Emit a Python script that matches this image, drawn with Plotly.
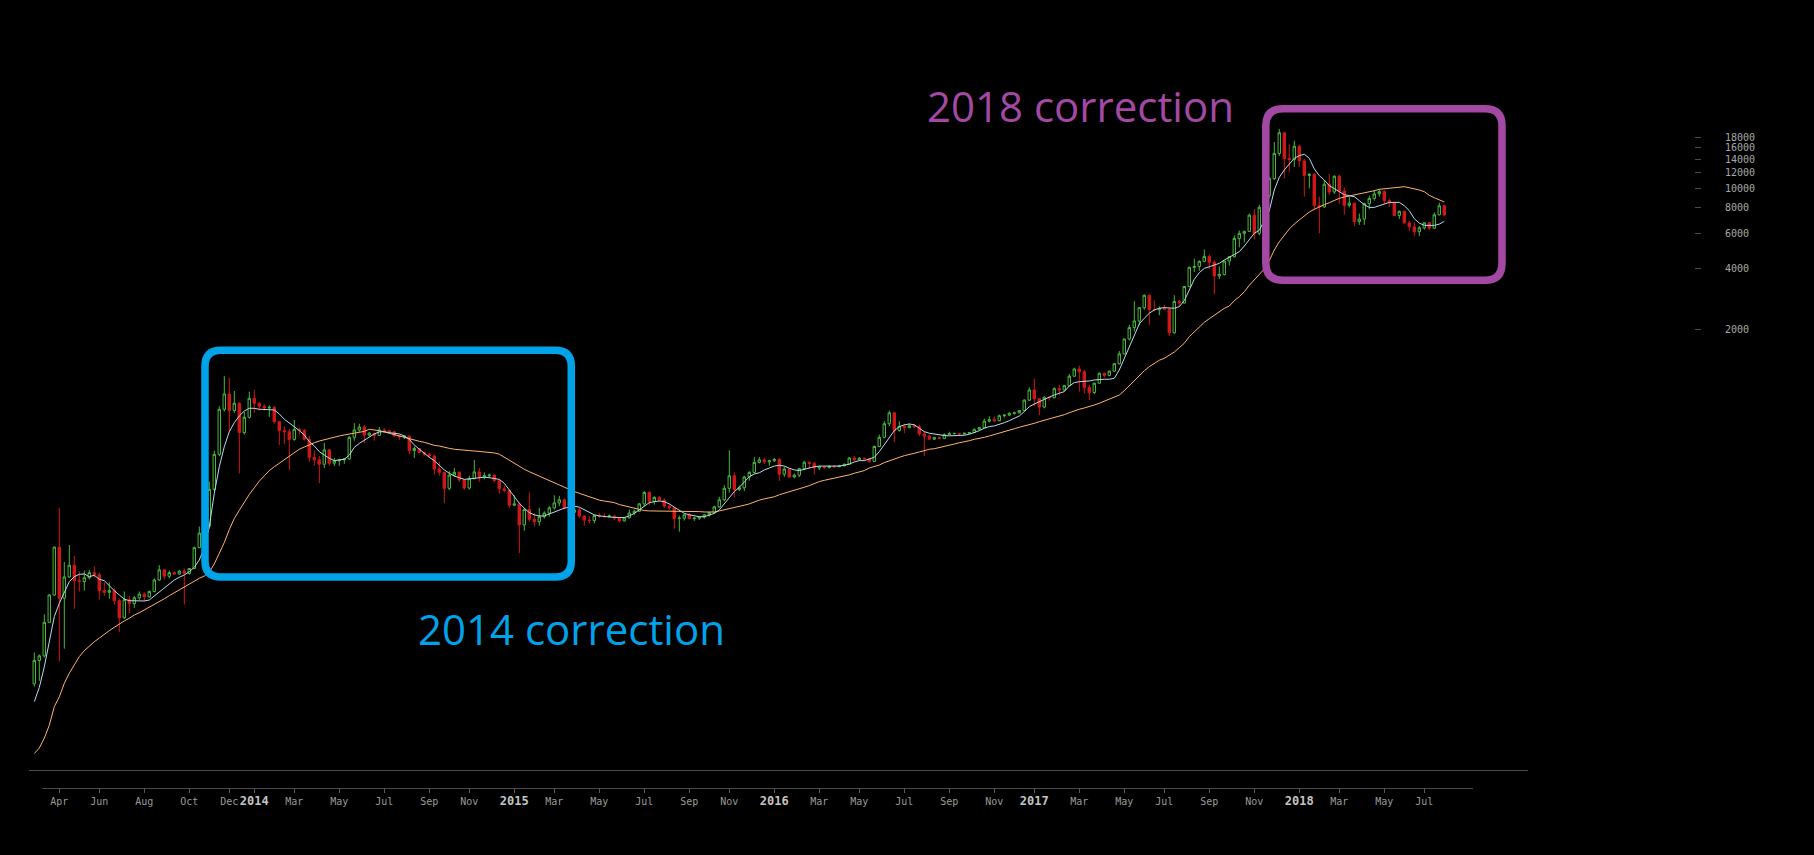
import math
import pandas as pd
import plotly.graph_objects as go

# ---------------- data (weekly candles, Monday weeks) ----------------
START_WEEK = "2013-03-04"

opens = [
    34.8, 45.4, 47.9, 70.3, 96, 166, 92.5, 118, 135, 113,
    112, 117, 124, 121, 101, 99, 101, 90, 74, 91,
    87, 93, 97, 94, 100, 114, 128, 119, 124, 122,
    126, 123, 130, 165, 195, 211, 321, 479, 802, 955,
    791, 859, 614, 732, 909, 859, 830, 815, 820, 696,
    628, 620, 568, 638, 630, 570, 463, 450, 428, 504,
    433, 445, 450, 455, 582, 633, 655, 597, 610, 595,
    633, 628, 620, 592, 585, 590, 500, 512, 490, 480,
    470, 405, 390, 325, 378, 390, 358, 326, 363, 392,
    370, 375, 378, 355, 323, 317, 268, 272, 214, 255,
    228, 222, 235, 245, 260, 275, 285, 260, 247, 254,
    237, 226, 225, 238, 236, 235, 237, 232, 224, 232,
    245, 250, 272, 310, 280, 293, 284, 265, 260, 230,
    231, 240, 230, 231, 234, 240, 246, 263, 285, 325,
    375, 321, 327, 370, 390, 437, 450, 440, 445, 452,
    382, 405, 370, 378, 407, 438, 432, 410, 415, 412,
    418, 416, 420, 428, 460, 450, 458, 455, 442, 524,
    582, 680, 770, 630, 660, 650, 665, 657, 605, 590,
    570, 580, 575, 600, 607, 609, 605, 610, 615, 638,
    650, 700, 712, 703, 745, 750, 765, 770, 790, 890,
    1000, 905, 822, 920, 915, 1015, 1000, 1050, 1170, 1270,
    1230, 1030, 970, 1080, 1210, 1180, 1240, 1350, 1510, 1790,
    2040, 2200, 2560, 2950, 2510, 2500, 2540, 2520, 1920, 2750,
    2700, 3260, 4060, 4100, 4350, 4600, 4300, 3680, 3740, 4360,
    4580, 5640, 5990, 6120, 7370, 5990, 8060, 9200, 11200, 14900,
    18900, 14100, 13900, 16200, 13700, 11600, 11750, 8240, 8100, 10500,
    9600, 11500, 9700, 8250, 8450, 6850, 7050, 8400, 8930, 9400,
    9650, 8700, 8500, 7350, 7700, 6750, 6450, 6100, 6380, 6750,
    6350, 7400, 8200,
]

highs = [
    49.8, 48.7, 77, 97, 167, 259, 140, 170, 150, 126,
    127, 128, 133, 124, 111, 111, 104, 92, 100, 95,
    95, 100, 99, 101, 116, 135, 129, 127, 126, 128,
    130, 131, 167, 210, 220, 350, 500, 830, 1172, 1150,
    988, 870, 780, 980, 1000, 870, 850, 840, 830, 700,
    660, 640, 709, 650, 640, 590, 500, 470, 547, 510,
    460, 456, 458, 590, 684, 680, 670, 620, 612, 655,
    645, 635, 625, 600, 595, 595, 525, 515, 492, 485,
    478, 440, 392, 395, 410, 395, 360, 375, 450, 410,
    390, 385, 380, 358, 335, 320, 300, 275, 260, 310,
    245, 260, 250, 265, 300, 298, 290, 275, 260, 260,
    238, 236, 240, 245, 244, 241, 238, 233, 234, 255,
    255, 275, 315, 315, 297, 297, 290, 272, 262, 238,
    242, 245, 235, 236, 241, 248, 266, 295, 337, 502,
    390, 335, 375, 395, 465, 465, 460, 447, 460, 460,
    415, 410, 385, 410, 445, 440, 440, 418, 418, 422,
    425, 425, 430, 465, 470, 465, 462, 458, 530, 600,
    700, 790, 775, 700, 680, 680, 680, 670, 620, 600,
    585, 588, 610, 620, 612, 612, 612, 618, 642, 655,
    720, 740, 740, 755, 760, 775, 780, 795, 900, 1030,
    1140, 910, 930, 928, 1030, 1060, 1060, 1200, 1290, 1320,
    1260, 1060, 1090, 1220, 1220, 1250, 1360, 1560, 1800, 2100,
    2760, 2580, 2980, 2980, 2780, 2600, 2640, 2550, 2950, 2800,
    3280, 4100, 4480, 4400, 4980, 4700, 4400, 4100, 4380, 4600,
    5850, 6180, 6180, 7500, 7900, 8300, 9700, 11400, 17000, 19700,
    19000, 16500, 17250, 16400, 14000, 11900, 11900, 9100, 11000, 11800,
    11600, 11700, 10100, 9100, 8500, 7500, 8500, 9200, 9800, 9950,
    9800, 8900, 8600, 7780, 7770, 6900, 6800, 6500, 6800, 6800,
    7600, 8500, 8300,
]

lows = [
    33.7, 36, 47, 70, 95, 45, 52, 117, 82, 100,
    101, 115, 117, 91, 95, 92, 86, 63, 73, 78,
    83, 91, 89, 93, 99, 113, 115, 116, 121, 121,
    86, 121, 129, 164, 190, 205, 315, 470, 780, 620,
    770, 386, 600, 720, 770, 790, 790, 735, 680, 533,
    540, 400, 560, 600, 560, 440, 420, 345, 410, 420,
    420, 420, 430, 450, 560, 620, 545, 590, 560, 590,
    610, 610, 585, 565, 570, 480, 460, 485, 470, 460,
    380, 375, 275, 318, 370, 350, 320, 320, 360, 350,
    360, 365, 348, 305, 310, 260, 265, 155, 200, 222,
    210, 212, 230, 235, 255, 265, 255, 240, 240, 232,
    212, 218, 218, 232, 233, 233, 225, 220, 222, 230,
    240, 248, 265, 268, 270, 280, 260, 255, 205, 198,
    225, 228, 224, 226, 230, 235, 244, 260, 280, 310,
    293, 315, 315, 355, 385, 432, 430, 420, 440, 354,
    370, 365, 365, 370, 400, 405, 380, 400, 405, 408,
    410, 414, 418, 425, 440, 445, 448, 435, 440, 520,
    575, 660, 550, 620, 610, 645, 650, 590, 470, 565,
    565, 570, 570, 598, 602, 595, 600, 605, 610, 630,
    645, 690, 690, 700, 730, 740, 755, 765, 785, 880,
    830, 750, 810, 885, 910, 940, 985, 1045, 1160, 980,
    960, 890, 955, 1075, 1150, 1170, 1230, 1340, 1500, 1760,
    1950, 2100, 2500, 2100, 2450, 2350, 2480, 1850, 1900, 2600,
    2690, 3230, 3850, 3900, 4300, 3980, 2980, 3550, 3700, 4150,
    4560, 5100, 5400, 6100, 5600, 5850, 7900, 9000, 11000, 14500,
    11200, 12100, 12800, 12800, 9100, 10000, 7800, 6000, 8000, 9300,
    9400, 8400, 7400, 8050, 6500, 6600, 6600, 7900, 8700, 9100,
    8400, 8100, 7300, 7050, 6650, 6150, 5800, 5800, 6250, 6200,
    6300, 7350, 7300,
]

closes = [
    45.4, 47.9, 70.3, 96, 166, 92.5, 118, 135, 113, 112,
    117, 124, 121, 101, 99, 101, 90, 74, 91, 87,
    93, 97, 94, 100, 114, 128, 119, 124, 122, 126,
    123, 130, 165, 195, 211, 321, 479, 802, 955, 791,
    859, 614, 732, 909, 859, 830, 815, 820, 696, 628,
    620, 568, 638, 630, 570, 463, 450, 428, 504, 433,
    445, 450, 455, 582, 633, 655, 597, 610, 595, 633,
    628, 620, 592, 585, 590, 500, 512, 490, 480, 470,
    405, 390, 325, 378, 390, 358, 326, 363, 392, 370,
    375, 378, 355, 323, 317, 268, 272, 214, 255, 228,
    222, 235, 245, 260, 275, 285, 260, 247, 254, 237,
    226, 225, 238, 236, 235, 237, 232, 224, 232, 245,
    250, 272, 310, 280, 293, 284, 265, 260, 230, 231,
    240, 230, 231, 234, 240, 246, 263, 285, 325, 375,
    321, 327, 370, 390, 437, 450, 440, 445, 452, 382,
    405, 370, 378, 407, 438, 432, 410, 415, 412, 418,
    416, 420, 428, 460, 450, 458, 455, 442, 524, 582,
    680, 770, 630, 660, 650, 665, 657, 605, 590, 570,
    580, 575, 600, 607, 609, 605, 610, 615, 638, 650,
    700, 712, 703, 745, 750, 765, 770, 790, 890, 1000,
    905, 822, 920, 915, 1015, 1000, 1050, 1170, 1270, 1230,
    1030, 970, 1080, 1210, 1180, 1240, 1350, 1510, 1790, 2040,
    2200, 2560, 2950, 2510, 2500, 2540, 2520, 1920, 2750, 2700,
    3260, 4060, 4100, 4350, 4600, 4300, 3680, 3740, 4360, 4580,
    5640, 5990, 6120, 7370, 5990, 8060, 9200, 11200, 14900, 18900,
    14100, 13900, 16200, 13700, 11600, 11750, 8240, 8100, 10500, 9600,
    11500, 9700, 8250, 8450, 6850, 7050, 8400, 8930, 9400, 9650,
    8700, 8500, 7350, 7700, 6750, 6450, 6100, 6380, 6750, 6350,
    7400, 8200, 7400,
]

# short moving average (light blue line)
ma_fast = [
    28.4, 33.4, 42.3, 57.4, 75, 87.3, 99.7, 111.8, 118.4, 121.6,
    122.1, 118.4, 120.3, 114.9, 113.1, 106.4, 100.9, 96, 91.7, 90,
    89.7, 89.7, 89.7, 90.7, 94.9, 99.7, 104.9, 109.8, 114, 117.6,
    120.7, 125.3, 131.8, 143.3, 165, 210, 307, 416, 523, 621,
    688, 743, 786, 811, 811, 802, 802, 798, 795, 760,
    715, 688, 657, 628, 598, 554, 527, 494, 476, 458,
    446, 450, 453, 475, 519, 543, 564, 586, 605, 619,
    621, 614, 609, 605, 591, 569, 533, 508, 485, 463,
    446, 424, 401, 386, 374, 367, 360, 362, 365, 369,
    369, 367, 365, 360, 344, 319, 295, 274, 259, 246,
    240, 237, 237, 242, 249, 254, 259, 262, 265, 262,
    254, 246, 240, 237, 235, 233, 233, 233, 233, 237,
    244, 254, 266, 276, 279, 281, 279, 272, 262, 252,
    244, 240, 237, 235, 235, 239, 244, 254, 272, 295,
    313, 329, 351, 371, 383, 388, 401, 409, 419, 423,
    419, 409, 401, 398, 404, 411, 416, 419, 419, 421,
    419, 419, 423, 429, 439, 446, 446, 453, 463, 494,
    533, 582, 628, 658, 671, 678, 671, 646, 621, 610,
    603, 598, 594, 592, 592, 592, 596, 603, 614, 628,
    646, 658, 663, 674, 688, 704, 724, 743, 781, 826,
    852, 875, 899, 920, 945, 963, 981, 1047, 1087, 1099,
    1099, 1108, 1121, 1130, 1130, 1130, 1143, 1257, 1437, 1653,
    1874, 2127, 2270, 2403, 2495, 2544, 2561, 2544, 2544, 2591,
    2774, 3133, 3541, 3819, 4014, 4089, 4169, 4250, 4414, 4552,
    4675, 4855, 5182, 5595, 5991, 6200, 6900, 7758, 9825, 11360,
    12355, 13230, 14120, 14550, 14790, 14120, 12500, 11570, 11010, 10320,
    9940, 9670, 9314, 9208, 9104, 8696, 8307, 8055, 8055, 8212,
    8372, 8526, 8526, 8526, 8212, 7758, 7077, 6731, 6557, 6557,
    6557, 6656, 6864,
]

# long moving average (orange line)
ma_slow = [
    15.7, 16.7, 18.7, 21.7, 26.8, 30.0, 35.0, 39.3, 43.2, 47.5,
    50.8, 53.8, 56.3, 58.7, 61.5, 63.9, 66.4, 69.0, 71.4, 73.6,
    76.4, 78.4, 80.9, 83.1, 85.7, 88.6, 92.0, 95.3, 98.6, 101.7,
    105.6, 108.9, 113.1, 116.2, 119.3, 125, 137, 154, 175, 203,
    230, 253, 279, 303, 327, 353, 375, 398, 416, 433,
    453, 470, 491, 508, 521, 535, 547, 558, 567, 576,
    582, 591, 598, 605, 612, 616, 623, 638, 635, 628,
    619, 609, 603, 593, 584, 573, 565, 556, 550, 541,
    531, 527, 519, 513, 508, 504, 502, 500, 498, 496,
    494, 491, 487, 480, 463, 449, 433, 416, 404, 393,
    383, 373, 364, 355, 344, 336, 327, 321, 313, 307,
    301, 294, 289, 284, 281, 279, 276, 270, 266, 262,
    259, 255, 252, 251, 251, 251, 251, 251, 251, 251,
    251, 251, 250, 249, 248, 247, 248, 251, 254, 257,
    260, 263, 268, 272, 279, 284, 288, 292, 295, 302,
    307, 312, 316, 322, 329, 335, 343, 351, 356, 360,
    364, 369, 373, 379, 386, 393, 398, 410, 416, 424,
    436, 446, 454, 463, 472, 477, 485, 492, 500, 508,
    511, 519, 527, 533, 539, 547, 552, 560, 569, 573,
    582, 591, 600, 609, 620, 633, 642, 653, 662, 672,
    683, 696, 707, 718, 726, 737, 754, 771, 789, 802,
    814, 826, 842, 859, 879, 895, 915, 944, 992, 1050,
    1112, 1187, 1246, 1305, 1356, 1404, 1436, 1486, 1543, 1621,
    1705, 1839, 1947, 2060, 2166, 2257, 2355, 2445, 2542, 2610,
    2773, 2903, 3073, 3307, 3530, 3750, 3985, 4380, 4949, 5441,
    5855, 6292, 6662, 6973, 7300, 7641, 7880, 8118, 8307, 8498,
    8734, 8935, 9070, 9173, 9247, 9354, 9493, 9637, 9746, 9904,
    9972, 10051, 10086, 10132, 10203, 10086, 9972, 9824, 9637, 9247,
    8997, 8764, 8567,
]

y_tick_values = [2000, 4000, 6000, 8000, 10000, 12000, 14000, 16000, 18000]

x_tick_dates = [
    "2013-04-08", "2013-06-03", "2013-08-05", "2013-10-07", "2013-12-02",
    "2014-01-06", "2014-03-03", "2014-05-05", "2014-07-07", "2014-09-08", "2014-11-03",
    "2015-01-05", "2015-03-02", "2015-05-04", "2015-07-06", "2015-09-07", "2015-11-02",
    "2016-01-04", "2016-03-07", "2016-05-02", "2016-07-04", "2016-09-05", "2016-11-07",
    "2017-01-02", "2017-03-06", "2017-05-08", "2017-07-03", "2017-09-04", "2017-11-06",
    "2018-01-08", "2018-03-05", "2018-05-07", "2018-07-02",
]
x_tick_labels = [
    "Apr", "Jun", "Aug", "Oct", "Dec",
    "2014", "Mar", "May", "Jul", "Sep", "Nov",
    "2015", "Mar", "May", "Jul", "Sep", "Nov",
    "2016", "Mar", "May", "Jul", "Sep", "Nov",
    "2017", "Mar", "May", "Jul", "Sep", "Nov",
    "2018", "Mar", "May", "Jul",
]

label_2014 = "2014 correction"
label_2018 = "2018 correction"

# ---------------- layout geometry ----------------
W, H = 1814, 855
ML, MR, MT, MB = 29, 24, 10, 67
PW = W - ML - MR
PH = H - MT - MB


def px_x(px):
    return (px - ML) / PW


def px_y(py):
    return (H - MB - py) / PH


def lg_at(py):
    # log10 price at a pixel row
    return math.log10(2000) + (329.3 - py) / 201.5


weeks = pd.date_range(START_WEEK, periods=len(opens), freq="7D")
x_start = weeks[0] - pd.Timedelta(days=(34.3 - ML) * 7 / 5)
x_end = x_start + pd.Timedelta(days=(1528 - ML) * 7 / 5)

GREEN = "#46b93a"
RED = "#d01818"
BLUE = "#00A2E8"
PURPLE = "#A349A4"

tick_text = []
for t in x_tick_labels:
    if t.isdigit():
        tick_text.append("<span style='font-size:12px;color:#c4c4c4'><b>%s</b></span>" % t)
    else:
        tick_text.append(t)

fig = go.Figure()
fig.add_trace(go.Candlestick(
    x=weeks, open=opens, high=highs, low=lows, close=closes,
    increasing=dict(line=dict(color=GREEN, width=1), fillcolor="#000000"),
    decreasing=dict(line=dict(color=RED, width=1), fillcolor=RED),
    whiskerwidth=0, hoverinfo="skip", showlegend=False,
))
fig.add_trace(go.Scatter(
    x=weeks, y=ma_slow, mode="lines",
    line=dict(color="#ffb468", width=1), hoverinfo="skip", showlegend=False,
))
fig.add_trace(go.Scatter(
    x=weeks, y=ma_fast, mode="lines",
    line=dict(color="#b4dcf0", width=1), hoverinfo="skip", showlegend=False,
))


def rrect(x0, y0, x1, y1, r):
    X, Y = px_x, px_y
    return (
        f"M {X(x0 + r)},{Y(y0)} L {X(x1 - r)},{Y(y0)} "
        f"Q {X(x1)},{Y(y0)} {X(x1)},{Y(y0 + r)} L {X(x1)},{Y(y1 - r)} "
        f"Q {X(x1)},{Y(y1)} {X(x1 - r)},{Y(y1)} L {X(x0 + r)},{Y(y1)} "
        f"Q {X(x0)},{Y(y1)} {X(x0)},{Y(y1 - r)} L {X(x0)},{Y(y0 + r)} "
        f"Q {X(x0)},{Y(y0)} {X(x0 + r)},{Y(y0)} Z"
    )


shapes = [
    dict(type="line", xref="paper", yref="paper", x0=px_x(29), x1=px_x(1528),
         y0=px_y(770.5), y1=px_y(770.5), line=dict(color="#4a4a4a", width=1)),
    dict(type="line", xref="paper", yref="paper", x0=px_x(42), x1=px_x(1473),
         y0=px_y(788.5), y1=px_y(788.5), line=dict(color="#4a4a4a", width=1)),
    dict(type="path", xref="paper", yref="paper", path=rrect(205, 350.3, 571.3, 577, 16),
         line=dict(color=BLUE, width=7.5), fillcolor="rgba(0,0,0,0)"),
    dict(type="path", xref="paper", yref="paper", path=rrect(1265.8, 108.7, 1502, 280.3, 17),
         line=dict(color=PURPLE, width=7.5), fillcolor="rgba(0,0,0,0)"),
]

annotations = [
    dict(text=label_2018, xref="paper", yref="paper", x=px_x(925), y=px_y(105),
         xanchor="left", yanchor="middle", showarrow=False,
         font=dict(family="Open Sans", size=42, color=PURPLE)),
    dict(text=label_2014, xref="paper", yref="paper", x=px_x(416), y=px_y(628),
         xanchor="left", yanchor="middle", showarrow=False,
         font=dict(family="Open Sans", size=42, color=BLUE)),
]

fig.update_layout(
    width=W, height=H, autosize=False,
    margin=dict(l=ML, r=MR, t=MT, b=MB, pad=0),
    paper_bgcolor="#000000", plot_bgcolor="#000000",
    showlegend=False,
    xaxis=dict(
        type="date", domain=[0, px_x(1528)], range=[str(x_start), str(x_end)],
        rangeslider=dict(visible=False), showgrid=False, zeroline=False, showline=False,
        ticks="outside", ticklen=4, tickwidth=1, tickcolor="#5a5a5a",
        tickvals=x_tick_dates, ticktext=tick_text, tickangle=0,
        tickfont=dict(family="DejaVu Sans Mono", size=10, color="#9a9a9a"),
        anchor="y", fixedrange=True,
    ),
    yaxis=dict(
        type="log", range=[lg_at(788), lg_at(10)], domain=[0, 1],
        anchor="free", position=px_x(1694), side="right",
        showgrid=False, zeroline=False, showline=False,
        ticks="outside", ticklen=6, tickwidth=1, tickcolor="#4a4a4a",
        tickvals=y_tick_values, ticktext=[str(v) for v in y_tick_values],
        tickfont=dict(family="DejaVu Sans Mono", size=10, color="#a8a8a8"),
        ticklabelstandoff=22, fixedrange=True,
    ),
    shapes=shapes,
    annotations=annotations,
)

fig.write_html(
    "out.html",
    config={"displayModeBar": False},
    post_script="document.body.style.margin='0';document.body.style.background='#000';document.body.style.overflow='hidden';",
)
